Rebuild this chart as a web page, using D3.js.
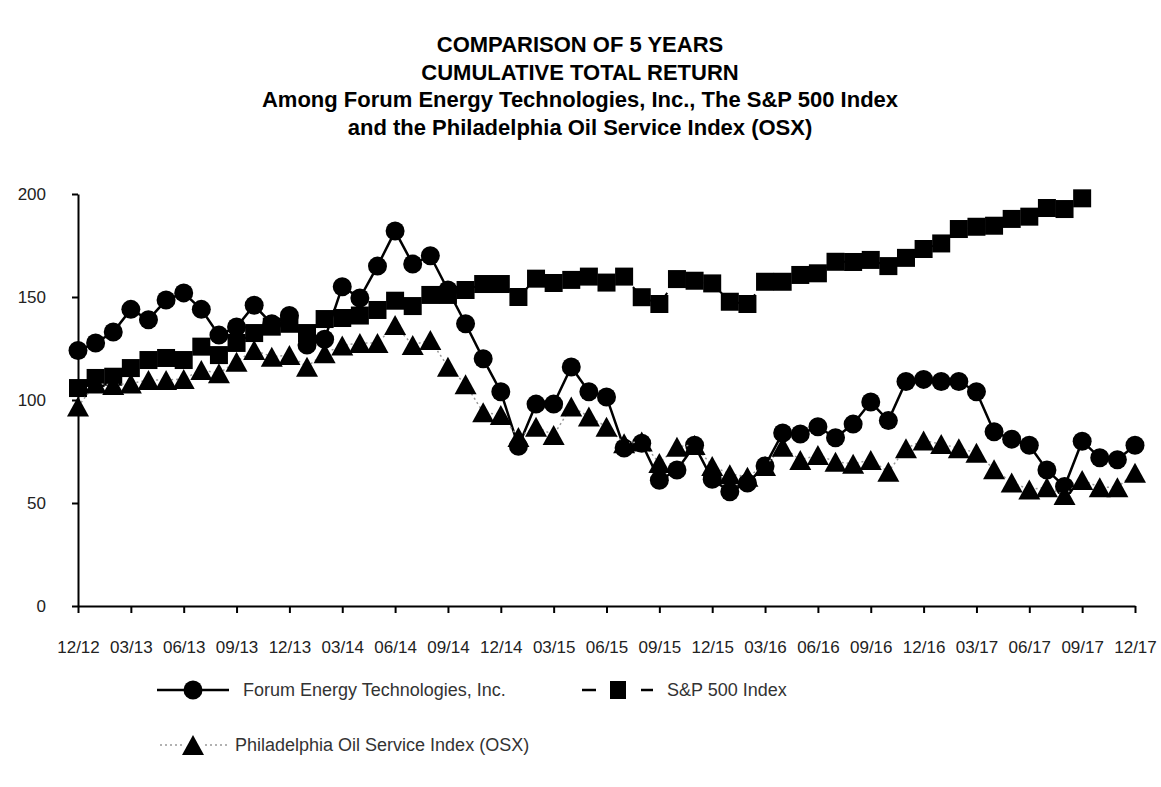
<!DOCTYPE html>
<meta charset="utf-8">
<title>Comparison of 5 Years Cumulative Total Return</title>
<style>
  body { margin: 0; background: #fff; }
  svg { display: block; font-family: 'Liberation Sans', Arial, sans-serif; }
  .title { font-weight: bold; font-size: 22px; fill: #000; }
  .axis text { font-size: 17px; fill: #222; font-family: 'Liberation Sans', Arial, sans-serif; }
  .axis path, .axis line { stroke: #000; stroke-width: 2; }
  .legend text { font-size: 18px; fill: #333; }
</style>
<svg width="1161" height="787"></svg>
<script src="https://cdn.jsdelivr.net/npm/d3@7"></script>
<script>
// quarter-end tick labels, 12/12 .. 12/17 (one every 3 months)
var quarterLabels = ["12/12","03/13","06/13","09/13","12/13","03/14","06/14","09/14",
  "12/14","03/15","06/15","09/15","12/15","03/16","06/16","09/16","12/16","03/17",
  "06/17","09/17","12/17"];

// monthly values
var forum = [124, 127.7, 133, 144, 139, 148.5, 152, 144, 131.5, 135.4, 146, 137, 141,
  126.7, 129.5, 155, 149.5, 165, 182, 166, 170, 153.4, 137, 120, 104, 77.5, 98, 98,
  116, 104, 101.5, 76.7, 79, 61, 66, 78, 61.5, 55.5, 59.7, 68, 84, 83.5, 87, 81.7,
  88.3, 99, 90, 109, 110, 109, 109, 104, 84.6, 81, 78, 66, 58, 80, 72, 71, 78];

var sp500 = [105.8, 110.7, 111.3, 115.5, 119.4, 120.4, 119.4, 125.9, 121.8, 127.7,
  132.5, 135.6, 137, 132.5, 139.3, 139.8, 141, 143.7, 148.2, 145.6, 151, 151, 153.4,
  156.3, 156.3, 150, 158.9, 156.8, 158.3, 159.9, 157, 159.9, 149.9, 146.6, 158.7,
  157.9, 156.6, 147.7, 146.6, 157.4, 157.4, 160.7, 161.5, 167.1, 167, 168, 165, 169,
  173.3, 176, 183, 184.1, 184.6, 187.9, 189, 193.2, 192.7, 197.9];

var osx = [96.8, 108, 107.3, 108, 109.7, 109.7, 110.2, 114.6, 113, 118.6, 124.3, 121,
  121.8, 116.2, 122.7, 126.5, 127.7, 127.7, 136.4, 126.7, 129.1, 116.2, 107.7, 94,
  92.7, 82, 87, 83, 96.8, 92, 87, 79, 79.8, 69.4, 77.3, 78.2, 68, 64, 62.8, 68, 77.3,
  70.9, 73.3, 70, 69, 70.9, 65.2, 76.6, 80.3, 78.6, 76.6, 74.4, 66.4, 59.9, 56.6,
  57.6, 53.9, 61.2, 57.6, 57.6, 64.7];

var yTicks = [0, 50, 100, 150, 200];

var titleLines = ["COMPARISON OF 5 YEARS", "CUMULATIVE TOTAL RETURN",
  "Among Forum Energy Technologies, Inc., The S&P 500 Index",
  "and the Philadelphia Oil Service Index (OSX)"];

var svg = d3.select("svg");

var x = d3.scaleLinear().domain([0, 60]).range([78, 1135]);
var y = d3.scaleLinear().domain([0, 200]).range([606, 194]);

// title
svg.selectAll(".title")
    .data(titleLines)
  .enter().append("text")
    .attr("class", "title")
    .attr("x", 580)
    .attr("y", function(d, i) { return 52 + i * 27.5; })
    .attr("text-anchor", "middle")
    .text(function(d) { return d; });

// axes
svg.append("g")
    .attr("class", "axis")
    .attr("transform", "translate(0,606)")
    .call(d3.axisBottom(x)
      .tickValues(d3.range(0, 61, 3))
      .tickFormat(function(d) { return quarterLabels[d / 3]; })
      .tickSize(7).tickSizeOuter(0).tickPadding(28));

svg.append("g")
    .attr("class", "axis")
    .attr("transform", "translate(78,0)")
    .call(d3.axisLeft(y)
      .tickValues(yTicks)
      .tickSize(6).tickSizeOuter(0).tickPadding(26));

var line = d3.line()
    .x(function(d, i) { return x(i); })
    .y(function(d) { return y(d); });

var tri = "M0,-10L11,10L-11,10Z";

// Forum: solid line + circles
svg.append("path")
    .datum(forum)
    .attr("d", line)
    .attr("fill", "none").attr("stroke", "#000").attr("stroke-width", 2.5);
svg.append("g").selectAll("circle")
    .data(forum)
  .enter().append("circle")
    .attr("cx", function(d, i) { return x(i); })
    .attr("cy", function(d) { return y(d); })
    .attr("r", 9.5)
    .attr("fill", "#000");

// S&P 500: dashed line + squares
svg.append("path")
    .datum(sp500)
    .attr("d", line)
    .attr("fill", "none").attr("stroke", "#000").attr("stroke-width", 2)
    .attr("stroke-dasharray", "10,8");
svg.append("g").selectAll("rect")
    .data(sp500)
  .enter().append("rect")
    .attr("x", function(d, i) { return x(i) - 9; })
    .attr("y", function(d) { return y(d) - 9; })
    .attr("width", 18).attr("height", 18)
    .attr("fill", "#000");

// OSX: dotted grey line + triangles
svg.append("path")
    .datum(osx)
    .attr("d", line)
    .attr("fill", "none").attr("stroke", "#999").attr("stroke-width", 1.5)
    .attr("stroke-dasharray", "2,3");
svg.append("g").selectAll("path")
    .data(osx)
  .enter().append("path")
    .attr("d", tri)
    .attr("transform", function(d, i) { return "translate(" + x(i) + "," + y(d) + ")"; })
    .attr("fill", "#000");

// legend
var lg = svg.append("g").attr("class", "legend");
lg.append("line").attr("x1", 157).attr("x2", 229).attr("y1", 690).attr("y2", 690)
    .attr("stroke", "#000").attr("stroke-width", 2.5);
lg.append("circle").attr("cx", 193).attr("cy", 690).attr("r", 9.5).attr("fill", "#000");
lg.append("text").attr("x", 243).attr("y", 690).attr("dy", "0.35em")
    .text("Forum Energy Technologies, Inc.");

lg.append("line").attr("x1", 582).attr("x2", 596).attr("y1", 690).attr("y2", 690)
    .attr("stroke", "#000").attr("stroke-width", 2.5);
lg.append("rect").attr("x", 610).attr("y", 681).attr("width", 16).attr("height", 18)
    .attr("fill", "#000");
lg.append("line").attr("x1", 641).attr("x2", 653).attr("y1", 690).attr("y2", 690)
    .attr("stroke", "#000").attr("stroke-width", 2.5);
lg.append("text").attr("x", 667).attr("y", 690).attr("dy", "0.35em")
    .text("S&P 500 Index");

lg.append("line").attr("x1", 160).attr("x2", 182).attr("y1", 745).attr("y2", 745)
    .attr("stroke", "#999").attr("stroke-width", 1.5).attr("stroke-dasharray", "2,3");
lg.append("path").attr("d", tri).attr("transform", "translate(193,745)").attr("fill", "#000");
lg.append("line").attr("x1", 205).attr("x2", 227).attr("y1", 745).attr("y2", 745)
    .attr("stroke", "#999").attr("stroke-width", 1.5).attr("stroke-dasharray", "2,3");
lg.append("text").attr("x", 235).attr("y", 745).attr("dy", "0.35em")
    .text("Philadelphia Oil Service Index (OSX)");
</script>
